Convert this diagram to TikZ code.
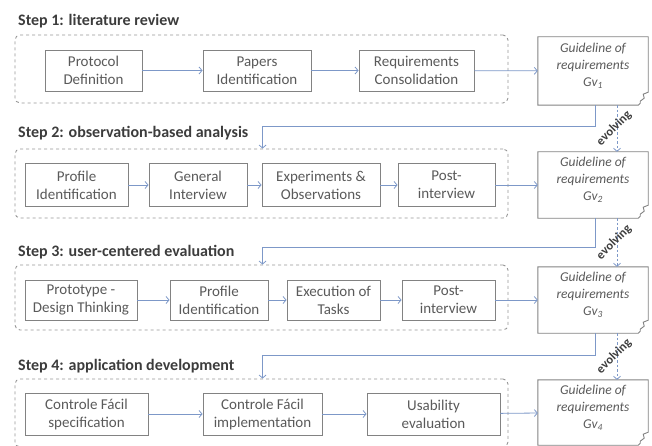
\documentclass[tikz,border=0pt]{standalone}
\usepackage{fontspec}
\setmainfont{Carlito}
\usetikzlibrary{arrows.meta,calc}

\definecolor{boxline}{RGB}{130,130,130}
\definecolor{txt}{RGB}{90,90,90}
\definecolor{heading}{RGB}{60,60,60}
\definecolor{flow}{RGB}{125,152,200}
\definecolor{frame}{RGB}{150,150,150}

\tikzset{
  stage/.style={draw=boxline, line width=0.9pt, fill=white, text=txt, align=center,
    font=\fontsize{15}{18}\selectfont, inner sep=0pt},
  phase/.style={draw=frame, dash pattern=on 3pt off 3pt, line width=0.9pt,
    rounded corners=5pt, inner sep=0pt},
  heading/.style={anchor=west, inner sep=0pt, text=heading,
    font=\fontsize{16}{19}\selectfont\bfseries},
  flowarrow/.style={draw=flow, line width=0.8pt, -{Straight Barb[length=3pt,width=7pt]}},
  guide/.style={inner sep=0pt},
  guidetext/.style={align=center, text=txt, inner sep=0pt,
    font=\fontsize{13.5}{17}\selectfont\itshape},
  guideline/.style={draw=boxline, line width=0.9pt},
  evo/.style={draw=flow, dash pattern=on 2.5pt off 2pt, line width=0.8pt,
    -{Straight Barb[length=3pt,width=7pt]}},
  evolabel/.style={anchor=center, inner sep=0pt, text=heading,
    font=\fontsize{12.5}{14}\selectfont\bfseries, rotate=45},
}

% outline of a guideline document with a torn lower-right corner
\newcommand\guideoutline[1]{%
  \draw[guideline] (#1.north west) -- (#1.north east) -- ($(#1.south east)+(0,-13)$)
    -- ++(-5,2) -- ++(1,4) -- ++(-4,3) -- ++(0,2) -- ++(-2,2) -- (#1.south west) -- cycle;}

\begin{document}
\begin{tikzpicture}[x=1pt,y=-1pt]
\useasboundingbox (0,0) rectangle (652,446);
\begin{scope}
\clip (0,0) rectangle (652,446);

% headings
\node[heading] (t1) at (18,21)  {Step 1: literature review};
\node[heading] (t2) at (18,133) {Step 2: observation-based analysis};
\node[heading] (t3) at (18,252) {Step 3: user-centered evaluation};
\node[heading] (t4) at (18,366) {Step 4: application development};

% dashed frames of the four steps
\node[phase, minimum width=493pt, minimum height=68pt] (f1) at (261.5,69) {};
\node[phase, minimum width=493pt, minimum height=69pt] (f2) at (261.5,183.5) {};
\node[phase, minimum width=493pt, minimum height=65pt] (f3) at (261.5,297.5) {};
\node[phase, minimum width=493pt, minimum height=68pt] (f4) at (261.5,413) {};

% step 1
\node[stage, minimum width=97pt,  minimum height=41pt] (p1) at (93.5,70.5)  {Protocol\\Definition};
\node[stage, minimum width=108pt, minimum height=41pt] (p2) at (257,70.5)   {Papers\\Identification};
\node[stage, minimum width=115pt, minimum height=41pt] (p3) at (416.5,70.5) {Requirements\\Consolidation};

% step 2
\node[stage, minimum width=103pt, minimum height=43pt] (a1) at (76.5,185)  {Profile\\Identification};
\node[stage, minimum width=98pt,  minimum height=43pt] (a2) at (198,185)   {General\\Interview};
\node[stage, minimum width=118pt, minimum height=43pt] (a3) at (321,185)   {Experiments \&\\Observations};
\node[stage, minimum width=97pt,  minimum height=43pt] (a4) at (446.5,185) {Post-\\interview};

% step 3
\node[stage, minimum width=112pt, minimum height=40pt] (b1) at (81,300)    {Prototype -\\Design Thinking};
\node[stage, minimum width=98pt,  minimum height=40pt] (b2) at (219,300)   {Profile\\Identification};
\node[stage, minimum width=93pt,  minimum height=40pt] (b3) at (333.5,300) {Execution of\\Tasks};
\node[stage, minimum width=93pt,  minimum height=40pt] (b4) at (448.5,300) {Post-\\interview};

% step 4
\node[stage, minimum width=123pt, minimum height=42pt] (c1) at (86.5,414)  {Controle Fácil\\specification};
\node[stage, minimum width=119pt, minimum height=42pt] (c2) at (262.5,414) {Controle Fácil\\implementation};
\node[stage, minimum width=133pt, minimum height=42pt] (c3) at (433.5,414) {Usability\\evaluation};

% guideline documents
\node[guide, minimum width=110pt, minimum height=68pt] (g1) at (593,71)    {};
\node[guide, minimum width=110pt, minimum height=66pt] (g2) at (593,185)   {};
\node[guide, minimum width=110pt, minimum height=66pt] (g3) at (593,300)   {};
\node[guide, minimum width=110pt, minimum height=65pt] (g4) at (593,412.5) {};
\guideoutline{g1}
\guideoutline{g2}
\guideoutline{g3}
\guideoutline{g4}
\node[guidetext] (g1t) at ($(g1.center)+(0,-5)$) {Guideline of\\requirements\\Gv\textsubscript{1}};
\node[guidetext] (g2t) at ($(g2.center)+(0,-5)$) {Guideline of\\requirements\\Gv\textsubscript{2}};
\node[guidetext] (g3t) at ($(g3.center)+(0,-5)$) {Guideline of\\requirements\\Gv\textsubscript{3}};
\node[guidetext] (g4t) at ($(g4.center)+(0,-5)$) {Guideline of\\requirements\\Gv\textsubscript{4}};

% flow inside the steps
\draw[flowarrow] (p1) -- (p2);
\draw[flowarrow] (p2) -- (p3);
\draw[flowarrow] (p3) -- (g1);
\draw[flowarrow] (a1) -- (a2);
\draw[flowarrow] (a2) -- (a3);
\draw[flowarrow] (a3) -- (a4);
\draw[flowarrow] (a4) -- (g2);
\draw[flowarrow] (b1) -- (b2);
\draw[flowarrow] (b2) -- (b3);
\draw[flowarrow] (b3) -- (b4);
\draw[flowarrow] (b4) -- (g3);
\draw[flowarrow] (c1) -- (c2);
\draw[flowarrow] (c2) -- (c3);
\draw[flowarrow] (c3) -- (g4);

% each guideline feeds the next step
\draw[flowarrow] ($(g1.south)+(2,0)$) -- ++(0,21) -| ($(f2.north west)+(248,0)$);
\draw[flowarrow] ($(g2.south)+(2,0)$) -- ++(0,29) -| ($(f3.north west)+(248,0)$);
\draw[flowarrow] ($(g3.south)+(2,0)$) -- ++(0,22) -| ($(f4.north west)+(248,0)$);

% guideline versions evolving
\draw[evo] ($(g1.south)+(24,0)$) coordinate (e1s) -- ($(g2.north)+(24,0)$) coordinate (e1e);
\draw[evo] ($(g2.south)+(24,0)$) coordinate (e2s) -- ($(g3.north)+(24,0)$) coordinate (e2e);
\draw[evo] ($(g3.south)+(24,0)$) coordinate (e3s) -- ($(g4.north)+(24,0)$) coordinate (e3e);
\node[evolabel] (ev1) at ($($(e1s)!0.5!(e1e)$)+(-3,0)$) {evolving};
\node[evolabel] (ev2) at ($($(e2s)!0.5!(e2e)$)+(-3,0)$) {evolving};
\node[evolabel] (ev3) at ($($(e3s)!0.5!(e3e)$)+(-3,0)$) {evolving};
\end{scope}
\end{tikzpicture}
\end{document}
